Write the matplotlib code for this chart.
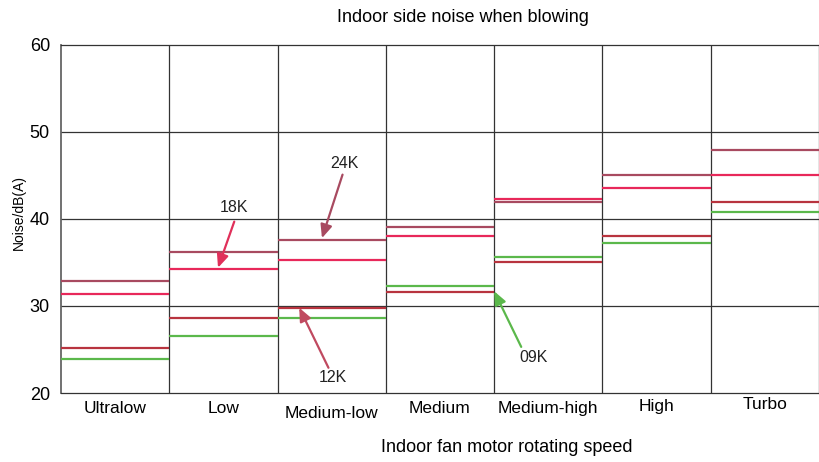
import numpy as np
import matplotlib
matplotlib.use('Agg')
from matplotlib import pyplot as plt

plt.rcParams['font.family'] = ['Liberation Sans', 'DejaVu Sans']

speeds = ['Ultralow', 'Low', 'Medium-low', 'Medium', 'Medium-high', 'High', 'Turbo']
noise_09k = [23.9, 26.6, 28.6, 32.3, 35.6, 37.2, 40.8]
noise_12k = [25.2, 28.6, 29.8, 31.6, 35.1, 38.1, 41.9]
noise_18k = [31.4, 34.3, 35.3, 38.1, 42.3, 43.6, 45.1]
noise_24k = [32.9, 36.2, 37.6, 39.1, 41.9, 45.1, 47.9]

series = [
    ('09K', noise_09k, '#5bb84b'),
    ('12K', noise_12k, '#b8343f'),
    ('18K', noise_18k, '#e8285a'),
    ('24K', noise_24k, '#a84a60'),
]

fig = plt.figure(figsize=(8.19, 4.62), dpi=100)
ax = fig.add_axes([61 / 819, 1 - 393 / 462, 1 - 61 / 819, 348 / 462])

x = np.arange(len(speeds))
for name, vals, col in series:
    ax.hlines(vals, x, x + 1, colors=col, linewidth=1.6, zorder=3)

ax.set_xlim(0, len(speeds))
ax.set_ylim(20, 60)
ax.set_yticks([20, 30, 40, 50, 60])
ax.tick_params(axis='y', labelsize=13, length=0, pad=8)
ax.tick_params(axis='x', labelsize=12.5, length=0, pad=6)

# grid
for yv in [30, 40, 50]:
    ax.axhline(yv, color='#333333', linewidth=0.9, zorder=1)
for xv in range(1, len(speeds)):
    ax.axvline(xv, color='#333333', linewidth=0.9, zorder=1)
for s in ax.spines.values():
    s.set_color('#333333')
    s.set_linewidth(0.9)
ax.spines['left'].set_color('#666666')
ax.spines['left'].set_linewidth(1.3)

ax.set_xticks(x + 0.5)
ax.set_xticklabels(speeds)
offsets = [0, 0, -0.014, 0, 0, 0.006, 0.013]
for lab, off in zip(ax.get_xticklabels(), offsets):
    lab.set_y(off)

fig.text(19 / 819, 1 - 212 / 462, 'Noise/dB(A)', fontsize=10, weight='medium',
         rotation=90, ha='center', va='center')
fig.text(507 / 819, 1 - 447 / 462, 'Indoor fan motor rotating speed', fontsize=13,
         ha='center', va='center')
fig.text(463 / 819, 1 - 17 / 462, 'Indoor side noise when blowing', fontsize=13,
         ha='center', va='center')

# labels with arrows
notes = [
    ('18K', (1.60, 41.3), (1.60, 39.7), (1.45, 34.4), '#e0305a'),
    ('24K', (2.62, 46.4), (2.60, 45.1), (2.41, 37.8), '#a84a60'),
    ('12K', (2.51, 21.8), (2.47, 22.9), (2.20, 29.8), '#c04a60'),
    ('09K', (4.36, 24.1), (4.25, 25.3), (4.00, 31.7), '#5bb84b'),
]
for name, tpos, tail, tip, col in notes:
    ax.text(tpos[0], tpos[1], name, fontsize=11.5, ha='center', va='center', color='#222222')
    ax.annotate('', xy=tip, xytext=tail,
                arrowprops=dict(arrowstyle='-|>,head_length=0.8,head_width=0.35',
                                color=col, linewidth=1.6, shrinkA=0, shrinkB=0),
                zorder=4)

plt.savefig('out.png', dpi=100)
